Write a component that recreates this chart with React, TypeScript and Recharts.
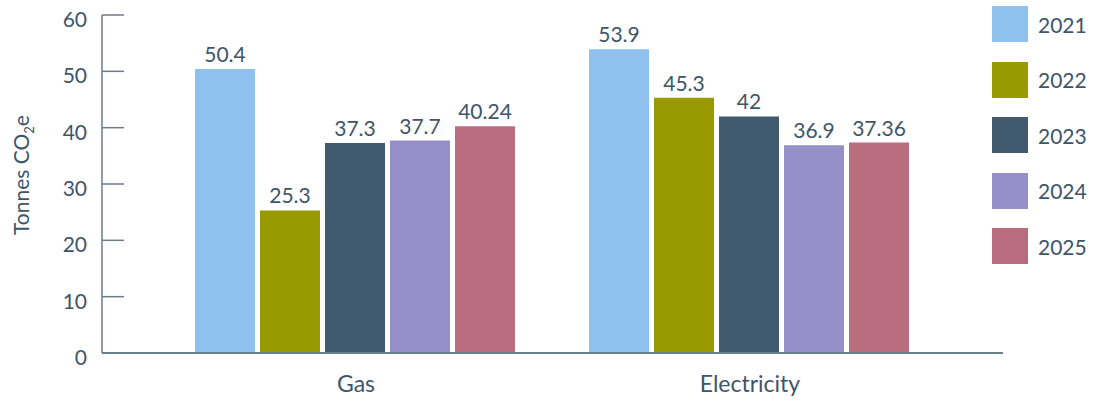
import React from 'react';
import { BarChart, Bar, XAxis, YAxis, LabelList } from 'recharts';

const categories = ['Gas', 'Electricity'];
const years = ['2021', '2022', '2023', '2024', '2025'];
const values2021 = [50.4, 53.9];
const values2022 = [25.3, 45.3];
const values2023 = [37.3, 42];
const values2024 = [37.7, 36.9];
const values2025 = [40.24, 37.36];
const yTicks = [0, 10, 20, 30, 40, 50, 60];
const colors = ['#8ec1ee', '#999a00', '#415a6e', '#9590c8', '#b96d7e'];

const seriesValues = [values2021, values2022, values2023, values2024, values2025];
const data = categories.map((c, i) => {
  const row: Record<string, string | number> = { category: c };
  years.forEach((y, j) => {
    row[y] = seriesValues[j][i];
  });
  return row;
});

const TEXT = '#3e5569';
const AXIS = '#6b7d8c';
const FONT = 21;

const YTick = (props: any) => {
  const { x, y, payload } = props;
  const axisX = x + 15;
  return (
    <g>
      <line x1={axisX} x2={axisX + 22} y1={y} y2={y} stroke={AXIS} strokeWidth={1.5} />
      <text x={x} y={y} dy={12} textAnchor="end" fill={TEXT} fontSize={FONT}>
        {payload.value}
      </text>
    </g>
  );
};

const EndTick = (props: any) => {
  const { x, y } = props;
  return <line x1={x} x2={x} y1={y} y2={y - 8} stroke={AXIS} strokeWidth={2} />;
};

const YLabel = (props: any) => {
  const vb = props.viewBox || { x: 0, y: 15, width: 102, height: 338 };
  const cx = vb.x + 29;
  const cy = vb.y + vb.height / 2 - 9;
  return (
    <text
      x={cx}
      y={cy}
      textAnchor="middle"
      fill={TEXT}
      fontSize={FONT}
      transform={`rotate(-90, ${cx}, ${cy})`}
    >
      <tspan>Tonnes CO</tspan>
      <tspan fontSize={13} dy={5}>2</tspan>
      <tspan dy={-5}>e</tspan>
    </text>
  );
};

export default function App() {
  return (
    <div
      style={{
        position: 'absolute',
        left: 0,
        top: 0,
        width: 1093,
        height: 403,
        fontFamily: 'Lato, sans-serif',
        background: '#fff',
      }}
    >
      <BarChart
        width={1093}
        height={403}
        data={data}
        margin={{ top: 15, right: 89, bottom: 0, left: 0 }}
        barCategoryGap={36}
        barGap={5}
      >
        <XAxis
          dataKey="category"
          padding={{ left: 57, right: 56 }}
          tickLine={false}
          tickSize={0}
          tickMargin={23}
          height={50}
          axisLine={{ stroke: AXIS, strokeWidth: 2 }}
          tick={{ fill: TEXT, fontSize: 23 }}
        />
        <YAxis
          width={102}
          domain={[0, 60]}
          ticks={yTicks}
          interval={0}
          tickLine={false}
          tickSize={0}
          tickMargin={15}
          axisLine={{ stroke: AXIS, strokeWidth: 1.5 }}
          tick={<YTick />}
          label={<YLabel />}
        />
        <YAxis
          yAxisId="r"
          orientation="right"
          width={1}
          domain={[0, 60]}
          ticks={[0]}
          interval={0}
          axisLine={false}
          tickLine={false}
          tickSize={0}
          tickMargin={0}
          tick={<EndTick />}
        />
        {years.map((y, i) => (
          <Bar key={y} dataKey={y} fill={colors[i]} isAnimationActive={false}>
            <LabelList dataKey={y} position="top" offset={7} fill={TEXT} fontSize={FONT} />
          </Bar>
        ))}
      </BarChart>
      {years.map((y, i) => (
        <div
          key={y}
          style={{
            position: 'absolute',
            left: 992,
            top: 6 + i * 55.5,
            height: 36,
            display: 'flex',
            alignItems: 'center',
          }}
        >
          <div style={{ width: 36, height: 36, background: colors[i] }} />
          <span style={{ marginLeft: 10, color: TEXT, fontSize: FONT }}>{y}</span>
        </div>
      ))}
    </div>
  );
}
